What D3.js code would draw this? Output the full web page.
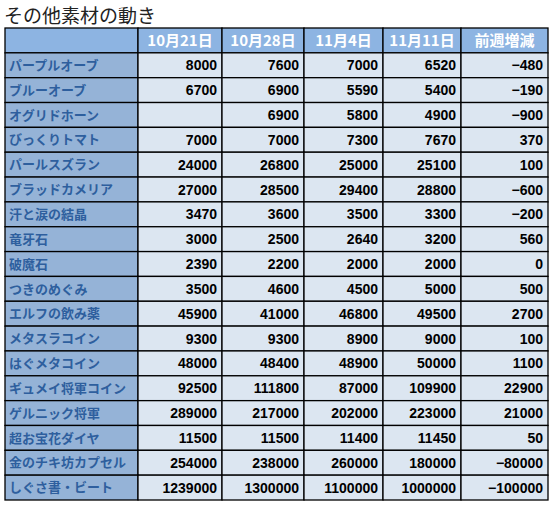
<!DOCTYPE html><html><head><meta charset="utf-8"><script src="https://cdn.jsdelivr.net/npm/d3@7"></script>
<style>body{margin:0;background:#fff}</style></head><body><svg id="c" width="554" height="507"></svg>
<script>
const title="その他素材の動き";
const headers=["10月21日","10月28日","11月4日","11月11日","前週増減"];
const items=["パープルオーブ","ブルーオーブ","オグリドホーン","びっくりトマト","パールスズラン","ブラッドカメリア","汗と涙の結晶","竜牙石","破魔石","つきのめぐみ","エルフの飲み薬","メタスラコイン","はぐメタコイン","ギュメイ将軍コイン","ゲルニック将軍","超お宝花ダイヤ","金のチキ坊カプセル","しぐさ書・ビート"];
const oct21=[8000,6700,null,7000,24000,27000,3470,3000,2390,3500,45900,9300,48000,92500,289000,11500,254000,1239000];
const oct28=[7600,6900,6900,7000,26800,28500,3600,2500,2200,4600,41000,9300,48400,111800,217000,11500,238000,1300000];
const nov4=[7000,5590,5800,7300,25000,29400,3500,2640,2000,4500,46800,8900,48900,87000,202000,11400,260000,1100000];
const nov11=[6520,5400,4900,7670,25100,28800,3300,3200,2000,5000,49500,9000,50000,109900,223000,11450,180000,1000000];
const change=[-480,-190,-900,370,100,-600,-200,560,0,500,2700,100,1100,22900,21000,50,-80000,-100000];
const cols=[oct21,oct28,nov4,nov11,change];
const svg=d3.select("#c");
svg.append("text").attr("x",4).attr("y",23).attr("font-size",19).attr("font-family","Noto Sans CJK JP").attr("fill","#222").text(title);
const xEdges=[5,138,222,304,383,461,548];
const rowKeys=["h",...items];
const y=d3.scaleBand().domain(rowKeys).range([28,500]);
const g=svg.append("g");
rowKeys.forEach((rk,ri)=>{
  for(let c=0;c<6;c++){
    const x0=xEdges[c],w=xEdges[c+1]-x0;
    let fill = ri===0 ? "#8db4e2" : (c===0 ? "#95b3d7" : "#dce6f1");
    g.append("rect").attr("x",x0).attr("y",y(rk)).attr("width",w).attr("height",y.bandwidth()).attr("fill",fill).attr("stroke","#000").attr("stroke-width",1.3);
    let txt="",anchor="end",tx=x0+w-5,color="#000",fam="Liberation Sans",fw="normal",fs=14;
    if(ri===0){ if(c>0){txt=headers[c-1];anchor="middle";tx=x0+w/2;color="#fff";fam="Noto Sans CJK JP";fw="bold";fs=15;} }
    else if(c===0){txt=items[ri-1];anchor="start";tx=x0+4;color="#2e5f9e";fam="Noto Sans CJK JP";fw="bold";fs=13;}
    else { const v=cols[c-1][ri-1]; txt=v==null?"":String(v).replace("-","−"); fw="bold"; }
    if(txt) g.append("text").attr("x",tx).attr("y",y(rk)+y.bandwidth()/2).attr("dy","0.36em").attr("text-anchor",anchor).attr("font-family",fam).attr("font-weight",fw).attr("font-size",fs).attr("fill",color).text(txt);
  }
});
</script></body></html>
